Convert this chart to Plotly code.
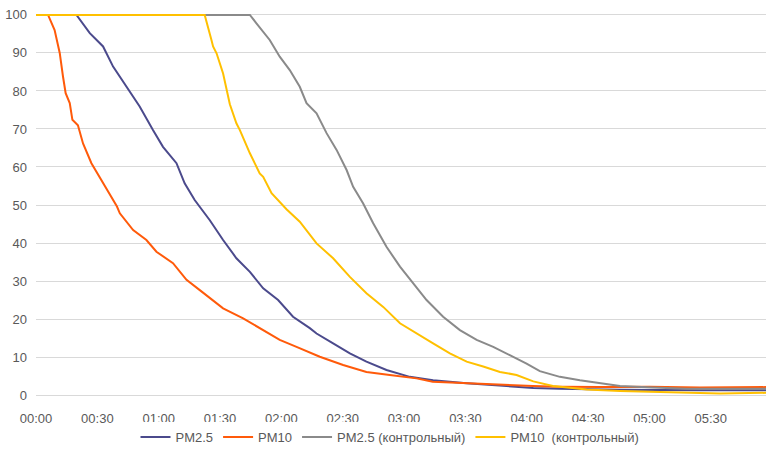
import plotly.graph_objects as go

# time in minutes since start
pm25_t = [0, 19.8, 26.3, 32.8, 37.7, 44.2, 50.7, 57.2, 62.1, 68.7, 72.7, 77.6, 85, 91.5, 98, 104.6,
          111.1, 118.4, 122.5, 125.7, 133.9, 137.2, 145.3, 153.5, 161.6, 171.4, 182.8, 194.2, 210.6,
          226.9, 243.2, 256, 285.6, 324.7, 357]
pm25_v = [100, 100, 95.2, 91.7, 86.4, 81.1, 75.9, 69.7, 65.3, 61, 55.7, 51.3, 46, 40.8, 36, 32.4,
          28.1, 25, 22.4, 20.6, 17.6, 16.2, 13.6, 11, 8.8, 6.6, 4.8, 3.9, 3.1,
          2.5, 1.9, 1.7, 1.4, 1.3, 1.3]

pm10_t = [0, 5.9, 9.1, 11.6, 13.2, 14.5, 16.5, 17.8, 20.5, 23, 27.1, 32, 36.1, 39.6, 41, 47.5, 54,
          58.9, 67, 73.6, 80.1, 91.5, 101.3, 111.1, 119.2, 127.4, 133.9, 138.8, 150.2, 161.6, 173,
          186.1, 194, 210.6, 227, 243, 256, 276, 300, 324.7, 357]
pm10_v = [100, 100, 96, 90, 83.8, 79.4, 76.8, 72.4, 71, 66.2, 61, 56.6, 52.6, 49.6, 47.8, 43.4, 40.8,
          37.7, 34.7, 30.3, 27.6, 22.8, 20.2, 17.1, 14.5, 12.7, 11.1, 10.1, 7.9, 6.1, 5.3,
          4.4, 3.5, 3.1, 2.6, 2.4, 2.2, 2.1, 2.2, 2.0, 2.1]

pm25c_t = [0, 104.6, 107.8, 114.3, 119.2, 124.1, 129, 132.3, 137.2, 142.1, 147, 151.9, 155.1, 160,
           164.9, 171.4, 178, 184.4, 191, 199.1, 207.3, 215.5, 223.6, 231.7, 239.9, 246.4, 256.2,
           266, 275.8, 285.6, 301.7, 318.2, 357]
pm25c_v = [100, 100, 97.8, 93.4, 89, 85.5, 81.1, 76.8, 74.1, 68.9, 64.5, 59.2, 54.8, 50.4,
           45.2, 39, 33.8, 29.4, 25, 20.6, 17.1, 14.5, 12.7, 10.5, 8.3, 6.3, 4.8,
           3.9, 3.1, 2.4, 2.0, 1.7, 1.7]

pm10c_t = [0, 82.5, 85.8, 86.6, 88.3, 91.5, 94.8, 98, 99.7, 104.6, 109.4, 111.1, 115.2, 122.5, 129,
           137.2, 145.3, 153.5, 161.6, 169.8, 178, 186.1, 194.2, 202.4, 210.6, 218.7, 226.9, 235,
           243.2, 252.8, 269.3, 285.6, 301.7, 318.2, 334.5, 357]
pm10c_v = [100, 100, 93.4, 91.7, 89.9, 84.6, 76.5, 71.5, 69.7, 63.6, 58.3, 57.4, 53.1, 48.9, 45.6,
           39.9, 36, 31.1, 26.8, 23.2, 18.9, 16.2, 13.6, 11, 8.8, 7.5, 6.1, 5.3,
           3.6, 2.4, 1.5, 1.1, 0.9, 0.6, 0.4, 0.6]

tick_vals = [0, 30, 60, 90, 120, 150, 180, 210, 240, 270, 300, 330]
tick_text = ["00:00", "00:30", "01:00", "01:30", "02:00", "02:30", "03:00", "03:30",
             "04:00", "04:30", "05:00", "05:30"]
y_ticks = [0, 10, 20, 30, 40, 50, 60, 70, 80, 90, 100]

series = [
    ("PM2.5", pm25_t, pm25_v, "#4B4A8C"),
    ("PM10", pm10_t, pm10_v, "#FF5A0A"),
    ("PM2.5 (контрольный)", pm25c_t, pm25c_v, "#8A8A8A"),
    ("PM10  (контрольный)", pm10c_t, pm10c_v, "#FFC000"),
]

fig = go.Figure()
for name, t, v, c in series:
    fig.add_trace(go.Scatter(x=t, y=v, name=name, mode="lines",
                             line=dict(color=c, width=2)))

font = dict(family="Liberation Sans, Arial, sans-serif", size=13, color="#595959")
fig.update_layout(
    width=780, height=453,
    margin=dict(l=36, r=14, t=13, b=56, autoexpand=False),
    paper_bgcolor="white", plot_bgcolor="white",
    font=font,
    showlegend=True,
    legend=dict(orientation="h", xref="container", yref="container",
                x=0.5, xanchor="center", y=0.035, yanchor="middle",
                itemwidth=30, font=font, traceorder="normal"),
    xaxis=dict(range=[0, 357], tickmode="array", tickvals=tick_vals, ticktext=tick_text,
               showgrid=False, zeroline=False, showline=False, ticks="",
               ticklabelstandoff=12, automargin=False),
    yaxis=dict(range=[-0.5, 100.5], tickmode="array", tickvals=y_ticks,
               showgrid=True, gridcolor="#D9D9D9", gridwidth=1,
               zeroline=True, zerolinecolor="#D9D9D9", zerolinewidth=1,
               showline=False, ticks="", ticklabelstandoff=8, automargin=False),
)
fig.write_html("out.html", config={"displayModeBar": False})

# remove the default page margin so the figure sits at the window's corner
with open("out.html", encoding="utf-8") as f:
    html = f.read()
html = html.replace("<head>", "<head><style>html,body{margin:0;padding:0;overflow:hidden;}</style>", 1)
with open("out.html", "w", encoding="utf-8") as f:
    f.write(html)
